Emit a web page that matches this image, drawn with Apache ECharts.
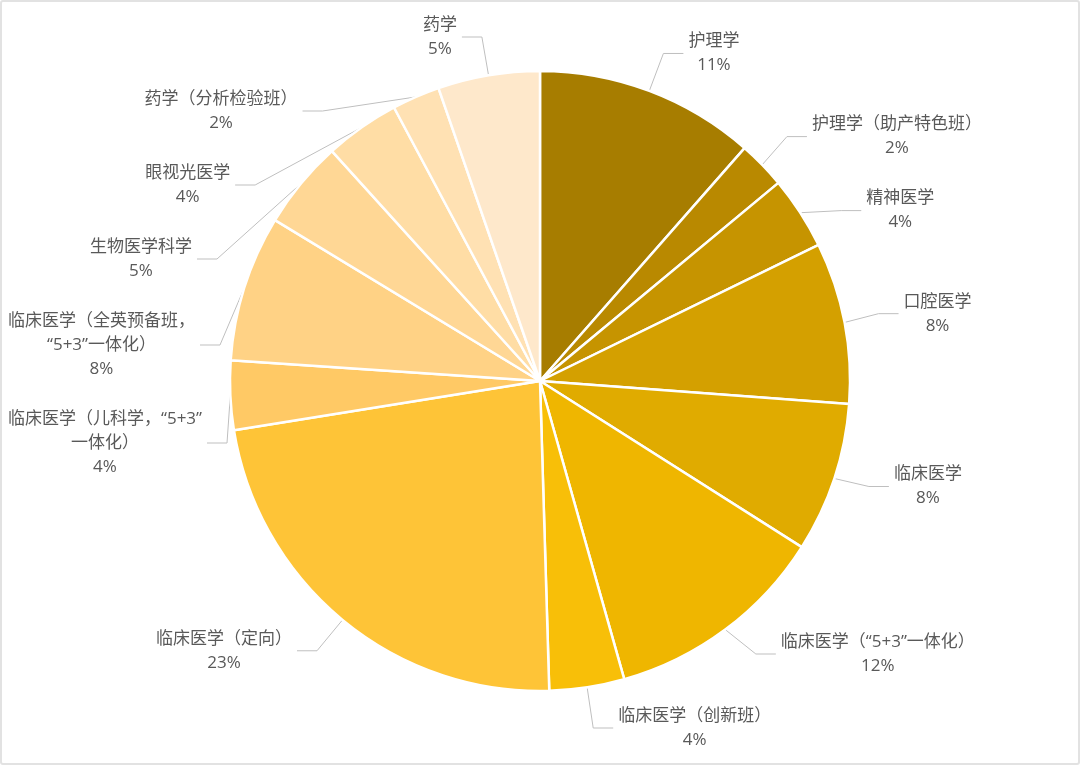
<!DOCTYPE html>
<html>
<head>
<meta charset="utf-8">
<script src="https://cdn.jsdelivr.net/npm/echarts@6/dist/echarts.min.js"></script>
<style>
  html, body { margin: 0; padding: 0; background: #fff; }
  #frame { position: absolute; left: 0; top: 0; width: 1076px; height: 761px; border: 2px solid #e2e2e2; border-radius: 3px; }
  #chart { position: absolute; left: 0; top: 0; width: 1080px; height: 765px; }
</style>
</head>
<body>
<div id="frame"></div>
<div id="chart"></div>
<script>
// 专业名称（顺时针，从12点方向开始）
const majors = [
  '护理学',
  '护理学（助产特色班）',
  '精神医学',
  '口腔医学',
  '临床医学',
  '临床医学（“5+3”一体化）',
  '临床医学（创新班）',
  '临床医学（定向）',
  '临床医学（儿科学，“5+3”一体化）',
  '临床医学（全英预备班，“5+3”一体化）',
  '生物医学科学',
  '眼视光医学',
  '药学（分析检验班）',
  '药学'
];

// 各专业占比（%，从图上估读）
const shares = [11.45, 2.49, 3.8, 8.4, 7.8, 11.6, 3.9, 22.9, 3.6, 7.6, 4.6, 3.9, 2.49, 5.3];

// 配色：深金 -> 浅杏
const palette = [
  '#A77D00', '#B98900', '#C69400', '#D4A000', '#E0AB00', '#EFB600', '#F8BF08',
  '#FEC437', '#FFC965', '#FFD285', '#FFD795', '#FFDDA5', '#FFE1B3', '#FEE8CB'
];

const LABEL_FONT_SIZE = 17;
const LABEL_FAMILY = '"Open Sans", "Noto Sans CJK SC", sans-serif';
const LABEL_GAP = 5;
const EDGE = 8;

// 标签换行：英文/数字串保持整体，中文逐字断行
const measureCtx = document.createElement('canvas').getContext('2d');
measureCtx.font = LABEL_FONT_SIZE + 'px ' + LABEL_FAMILY;
const textWidth = (s) => measureCtx.measureText(s).width;
const wrapName = (name, maxWidth) => {
  const tokens = name.match(/[\u0020-\u024F\u2010-\u206F]+|./g) || [];
  const lines = [];
  let cur = '';
  tokens.forEach((t) => {
    if (cur && textWidth(cur + t) > maxWidth) {
      lines.push(cur);
      cur = t;
    } else {
      cur += t;
    }
  });
  if (cur) lines.push(cur);
  return lines.join('\n');
};

const chart = echarts.init(document.getElementById('chart'));
const chartWidth = chart.getWidth();

const option = {
  backgroundColor: 'transparent',
  animation: false,
  color: palette,
  series: [
    {
      type: 'pie',
      center: [540, 381],
      radius: [0, 310],
      startAngle: 90,
      clockwise: true,
      avoidLabelOverlap: true,
      data: majors.map((name, i) => ({ name, value: shares[i] })),
      itemStyle: {
        borderColor: '#fff',
        borderWidth: 2.5
      },
      label: {
        show: true,
        position: 'outside',
        color: '#595959',
        fontSize: LABEL_FONT_SIZE,
        fontFamily: LABEL_FAMILY,
        lineHeight: 24,
        overflow: 'none',
        bleedMargin: 0,
        distanceToLabelLine: LABEL_GAP,
        padding: [12, 0],
        formatter: (p) => wrapName(p.name, 205) + '\n' + Math.round(p.percent) + '%'
      },
      labelLine: {
        show: true,
        length: 40,
        length2: 20,
        lineStyle: {
          color: '#BFBFBF',
          width: 1
        }
      },
      // Excel 风格：多行文字居中，紧贴引导线末端；超出画布时整体向内收
      labelLayout: (params) => {
        const pts = params.labelLinePoints;
        if (!pts) return {};
        const end = pts[pts.length - 1];
        const prev = pts[pts.length - 2];
        const w = Math.max(...params.text.split('\n').map(textWidth));
        const toLeft = end[0] < prev[0];
        const x = toLeft ? end[0] - LABEL_GAP - w / 2 : end[0] + LABEL_GAP + w / 2;
        let shift = 0;
        if (x - w / 2 < EDGE) shift = EDGE - (x - w / 2);
        if (x + w / 2 > chartWidth - EDGE) shift = chartWidth - EDGE - (x + w / 2);
        return {
          x: x + shift,
          align: 'center',
          labelLinePoints: pts.map((p, i) => (i === 0 ? [p[0], p[1]] : [p[0] + shift, p[1]]))
        };
      }
    }
  ]
};

chart.setOption(option);
</script>
</body>
</html>
